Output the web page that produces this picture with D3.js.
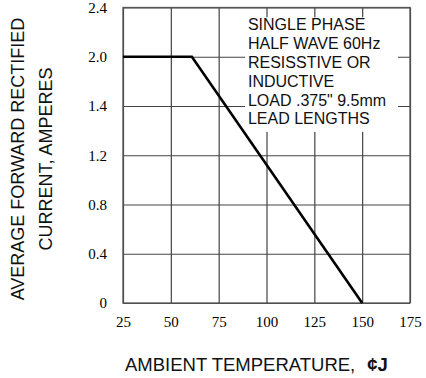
<!DOCTYPE html>
<html>
<head>
<meta charset="utf-8">
<script src="https://cdn.jsdelivr.net/npm/d3@7"></script>
<style>
  body { margin: 0; background: #fff; }
  svg { display: block; }
</style>
</head>
<body>
<svg id="chart" width="426" height="378"></svg>
<script>
const tempTicks = [25, 50, 75, 100, 125, 150, 175]
const currentTicks = [0, 0.4, 0.8, 1.2, 1.6, 2.0, 2.4]
// labels as printed on the original sheet (1.6 gridline is labelled 1.4)
const currentTickLabels = ["0", "0.4", "0.8", "1.2", "1.4", "2.0", "2.4"]

const curveTemp = [25, 61, 150]
const curveCurrent = [2.0, 2.0, 0]

const noteLines = ["SINGLE PHASE", "HALF WAVE 60Hz", "RESISSTIVE OR", "INDUCTIVE",
    "LOAD .375\" 9.5mm", "LEAD LENGTHS"]

const yTitleLines = ["AVERAGE FORWARD RECTIFIED", "CURRENT, AMPERES"]

const renderDeratingPlot = (targetSvg) => {

    let svg = d3.select(targetSvg),
        margin = {top: 7.5, right: 16, bottom: 75, left: 123},
        width = svg.attr('width') - margin.left - margin.right,
        height = svg.attr('height') - margin.top - margin.bottom,
        g = svg.append("g").attr("transform", "translate(" + margin.left + "," + margin.top + ")");

    let x = d3.scaleLinear().domain([25, 175]).range([0, width]),
        y = d3.scaleLinear().domain([0, 2.4]).range([height, 0]);

    // grid
    g.append("g")
        .attr("class", "grid grid--x")
        .attr("transform", "translate(0," + height + ")")
        .call(d3.axisBottom(x).tickValues(tempTicks).tickSize(-height).tickFormat(""))
        .call(a => a.select(".domain").remove())
        .selectAll("line").attr("stroke", "#444").attr("stroke-width", 1.2);

    g.append("g")
        .attr("class", "grid grid--y")
        .call(d3.axisLeft(y).tickValues(currentTicks).tickSize(-width).tickFormat(""))
        .call(a => a.select(".domain").remove())
        .selectAll("line").attr("stroke", "#444").attr("stroke-width", 1.2);

    g.append("rect")
        .attr("width", width)
        .attr("height", height)
        .attr("fill", "none")
        .attr("stroke", "#555")
        .attr("stroke-width", 1.3);

    // tick labels
    g.append("g")
        .attr("class", "axis axis--x")
        .attr("transform", "translate(0," + height + ")")
        .call(d3.axisBottom(x).tickValues(tempTicks).tickSize(0).tickPadding(13).tickFormat(d => d))
        .call(a => a.select(".domain").remove())
        .selectAll("text")
        .style("font-family", "'Liberation Serif', 'Times New Roman', serif")
        .style("font-size", "15px")
        .attr("fill", "#000");

    g.append("g")
        .attr("class", "axis axis--y")
        .call(d3.axisLeft(y).tickValues(currentTicks).tickSize(0).tickPadding(16)
            .tickFormat((d, i) => currentTickLabels[i]))
        .call(a => a.select(".domain").remove())
        .selectAll("text")
        .style("font-family", "'Liberation Serif', 'Times New Roman', serif")
        .style("font-size", "15px")
        .attr("fill", "#000");

    // note box (white patch hides the grid behind the text)
    let note = g.append("g").attr("class", "note")

    note.append("rect")
        .attr("x", x(88.8))
        .attr("y", y(2.32))
        .attr("width", x(168.7) - x(88.8))
        .attr("height", y(1.39) - y(2.32))
        .attr("fill", "#fff");

    note.selectAll("text")
        .data(noteLines)
        .enter().append("text")
        .attr("x", x(90.3))
        .attr("y", (d, i) => 22.8 + i * 18.8)
        .text(d => d)
        .style("font-family", "'Liberation Sans', Arial, sans-serif")
        .style("font-size", "16px")
        .attr("fill", "#111");

    // derating curve
    let line = d3.line()
        .x(d => x(d.t))
        .y(d => y(d.a));

    g.append("path")
        .datum(curveTemp.map((t, i) => ({t, a: curveCurrent[i]})))
        .attr("class", "line")
        .attr("d", line)
        .style("stroke", "#000")
        .style("fill", "none")
        .style("stroke-width", 2.6);

    // axis titles
    svg.append("text")
        .attr("x", 125)
        .attr("y", 371)
        .style("font-family", "'Liberation Sans', Arial, sans-serif")
        .style("font-size", "18.5px")
        .attr("fill", "#111")
        .text("AMBIENT TEMPERATURE,")
        .append("tspan")
        .attr("dx", 12)
        .style("font-weight", "bold")
        .text("¢J");

    svg.selectAll(".ytitle")
        .data(yTitleLines)
        .enter().append("text")
        .attr("class", "ytitle")
        .attr("transform", (d, i) => "translate(" + (24 + i * 28) + ",159) rotate(-90)")
        .attr("text-anchor", "middle")
        .style("font-family", "'Liberation Sans', Arial, sans-serif")
        .style("font-size", "18px")
        .attr("fill", "#111")
        .text(d => d);
}

renderDeratingPlot('#chart')
</script>
</body>
</html>
